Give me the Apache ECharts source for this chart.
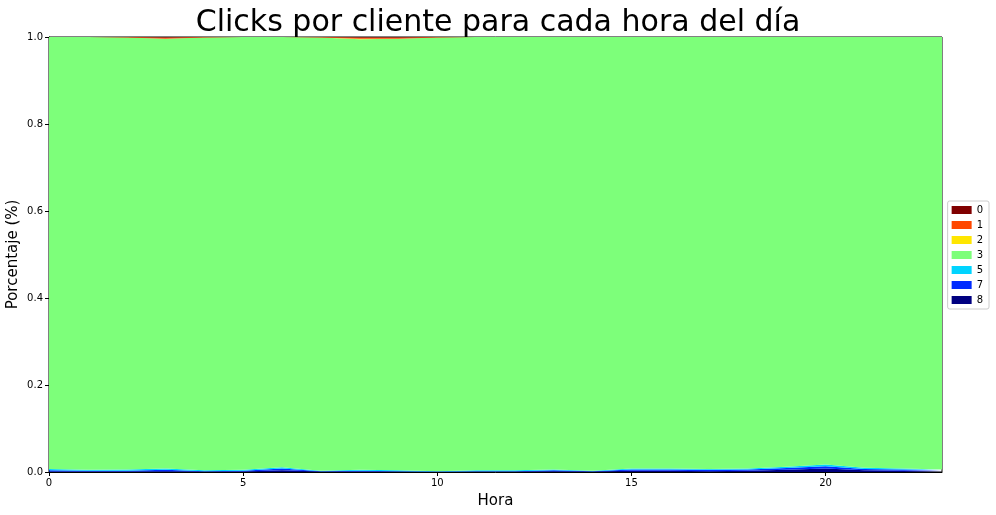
<!DOCTYPE html>
<html>
<head>
<meta charset="utf-8">
<script src="https://cdn.jsdelivr.net/npm/echarts@6/dist/echarts.min.js"></script>
<style>
html,body{margin:0;padding:0;background:#fff;}
#chart{width:996px;height:515px;}
</style>
</head>
<body>
<div id="chart"></div>
<script>
// Hours 0..23
var hours = ['0','1','2','3','4','5','6','7','8','9','10','11','12','13','14','15','16','17','18','19','20','21','22','23'];
// Fraction of clients per cluster (stacked to 1.0)
var s8 = [0.001,0.001,0.001,0.002,0.001,0.001,0.004,0.001,0.001,0.001,0.000,0.001,0.001,0.002,0.001,0.003,0.003,0.002,0.003,0.005,0.008,0.004,0.003,0.002];
var s7 = [0.003,0.002,0.002,0.003,0.001,0.002,0.004,0.001,0.002,0.001,0.001,0.001,0.001,0.002,0.001,0.003,0.003,0.003,0.003,0.004,0.005,0.003,0.003,0.002];
var s5 = [0.003,0.002,0.003,0.003,0.002,0.002,0.003,0.001,0.002,0.002,0.001,0.002,0.002,0.002,0.001,0.002,0.002,0.002,0.002,0.003,0.004,0.003,0.002,0.002];
var s3 = [0.993,0.995,0.993,0.988,0.995,0.995,0.989,0.996,0.990,0.992,0.997,0.996,0.996,0.994,0.997,0.992,0.992,0.993,0.992,0.988,0.983,0.990,0.992,0.994];
var s2 = [0.000,0.000,0.000,0.000,0.000,0.000,0.000,0.000,0.001,0.000,0.000,0.000,0.000,0.000,0.000,0.000,0.000,0.000,0.000,0.000,0.000,0.000,0.000,0.000];
var s1 = [0.000,0.000,0.001,0.003,0.001,0.000,0.000,0.001,0.003,0.003,0.001,0.000,0.000,0.000,0.000,0.000,0.000,0.000,0.000,0.000,0.000,0.000,0.000,0.000];
var s0 = [0.000,0.000,0.000,0.001,0.000,0.000,0.000,0.000,0.001,0.001,0.000,0.000,0.000,0.000,0.000,0.000,0.000,0.000,0.000,0.000,0.000,0.000,0.000,0.000];
var legendNames = ['0','1','2','3','5','7','8'];
var yTicks = [0.0,0.2,0.4,0.6,0.8,1.0];

var colors = {'0':'#800000','1':'#ff4700','2':'#ffe600','3':'#7dff7a','5':'#00d4ff','7':'#002bff','8':'#000080'};
var stackOrder = [['8',s8],['7',s7],['5',s5],['3',s3],['2',s2],['1',s1],['0',s0]];

var series = stackOrder.map(function(p){
  return {
    name: p[0], type:'line', stack:'total', stackStrategy:'all', data: p[1],
    symbol:'none', showSymbol:false,
    lineStyle:{width:0}, itemStyle:{color:colors[p[0]]},
    areaStyle:{color:colors[p[0]], opacity:1},
    emphasis:{disabled:true}, animation:false
  };
});

var chart = echarts.init(document.getElementById('chart'), null, {renderer:'canvas'});
chart.setOption({
  animation:false,
  backgroundColor:'#fff',
  textStyle:{fontFamily:'DejaVu Sans'},
  title:{
    text:'Clicks por cliente para cada hora del día',
    left:'center', top:3,
    textStyle:{fontFamily:'DejaVu Sans', fontSize:30, fontWeight:'normal', color:'#000'}
  },
  legend:{
    data: legendNames, orient:'vertical', right:7, top:201,
    icon:'rect', itemWidth:20, itemHeight:8, itemGap:5,
    borderColor:'#ccc', borderWidth:1, borderRadius:2, padding:[4,6,4,4],
    textStyle:{fontFamily:'DejaVu Sans', fontSize:10, color:'#000'},
    selectedMode:false
  },
  grid:{left:49, right:54, top:37, bottom:43, outerBoundsMode:'none', containLabel:false, show:true, borderColor:'#000', borderWidth:1, backgroundColor:'transparent'},
  xAxis:{
    type:'category', data:hours, boundaryGap:false,
    name:'Hora', nameLocation:'middle', nameGap:22, nameMoveOverlap:false,
    nameTextStyle:{fontFamily:'DejaVu Sans', fontSize:15, color:'#000'},
    axisLine:{show:true, lineStyle:{color:'#000'}},
    axisTick:{show:true, length:4, interval:4, lineStyle:{color:'#000'}},
    axisLabel:{fontFamily:'DejaVu Sans', fontSize:10, color:'#000', margin:6, interval:4},
    splitLine:{show:false}
  },
  yAxis:{
    type:'value', min:0, max:1, interval:0.2,
    name:'Porcentaje (%)', nameLocation:'middle', nameGap:28, nameRotate:90, nameMoveOverlap:false,
    nameTextStyle:{fontFamily:'DejaVu Sans', fontSize:15, color:'#000'},
    axisLine:{show:true, lineStyle:{color:'#000'}},
    axisTick:{show:true, length:4, lineStyle:{color:'#000'}},
    axisLabel:{fontFamily:'DejaVu Sans', fontSize:10, color:'#000', margin:6,
      formatter:function(v){ var t = yTicks.filter(function(x){return Math.abs(x-v)<1e-9;}); return t.length? t[0].toFixed(1) : ''; }},
    splitLine:{show:false}
  },
  series: series
});
</script>
</body>
</html>
